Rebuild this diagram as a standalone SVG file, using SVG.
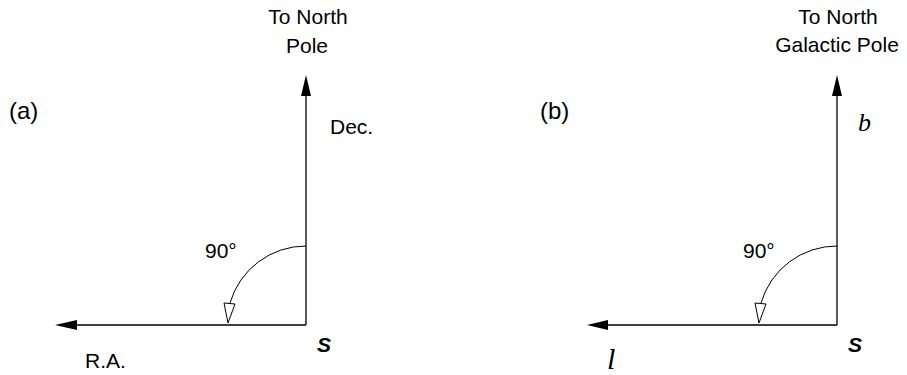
<svg xmlns="http://www.w3.org/2000/svg" width="907" height="375" viewBox="0 0 907 375">
<defs>
<style>
.t{font-family:"Liberation Sans",Arial,sans-serif;font-size:21px;fill:#000}
.p{font-family:"Liberation Sans",Arial,sans-serif;font-size:24px;fill:#000}
.s{font-family:"Liberation Sans",Arial,sans-serif;font-size:21px;font-weight:bold;font-style:italic;fill:#000}
.m{font-family:"Liberation Serif","Times New Roman",serif;font-style:italic;fill:#000}
.ln{stroke:#000;stroke-width:1.3;fill:none}
.arc{stroke:#000;stroke-width:1;fill:none}
.ah{fill:#000;stroke:none}
.oh{fill:#fff;stroke:#000;stroke-width:1}
</style>
</defs>
<rect width="907" height="375" fill="#fff"/>
<g id="panel-a">
<g id="connectors-a">
<line class="ln" x1="306" y1="325" x2="306" y2="92"/>
<polygon class="ah" points="306,75 301,96 311,96"/>
<line class="ln" x1="306" y1="325" x2="74" y2="325"/>
<polygon class="ah" points="55,325 77,320 77,330"/>
<path class="arc" d="M306,246 A79,79 0 0 0 230,303"/>
<polygon class="oh" points="224,303 235,304 228,323"/>
</g>
<text class="t" x="308" y="24" text-anchor="middle">To North</text>
<text class="t" x="307" y="53" text-anchor="middle">Pole</text>
<text class="p" x="9" y="119">(a)</text>
<text class="t" x="330" y="134">Dec.</text>
<text class="t" x="205" y="258">90°</text>
<text class="s" x="317" y="352">S</text>
<text class="t" x="85" y="368">R.A.</text>
</g>
<g id="panel-b">
<g id="connectors-b">
<line class="ln" x1="837" y1="325" x2="837" y2="92"/>
<polygon class="ah" points="837,75 832,96 842,96"/>
<line class="ln" x1="837" y1="325" x2="605" y2="325"/>
<polygon class="ah" points="587,325 608,320 608,330"/>
<path class="arc" d="M837,246 A79,79 0 0 0 761,303"/>
<polygon class="oh" points="755,303 766,304 759,323"/>
</g>
<text class="t" x="838" y="24" text-anchor="middle">To North</text>
<text class="t" x="837" y="52" text-anchor="middle">Galactic Pole</text>
<text class="p" x="540" y="119">(b)</text>
<text class="m" x="858" y="131" font-size="26">b</text>
<text class="t" x="743" y="258">90°</text>
<text class="s" x="848" y="352">S</text>
<text class="m" x="607" y="369" font-size="30">l</text>
</g>
</svg>
